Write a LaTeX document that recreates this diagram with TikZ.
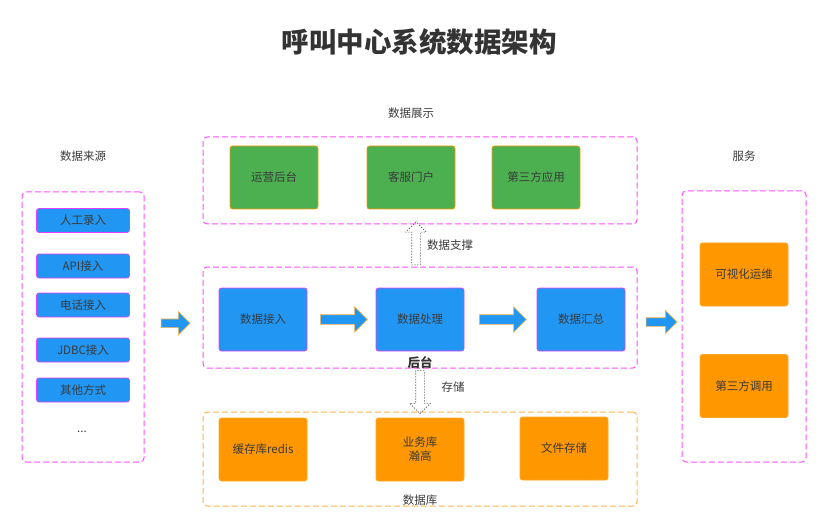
\documentclass[tikz,border=0pt]{standalone}
\usepackage{fontspec}
\setmainfont{Noto Sans CJK SC}
\usetikzlibrary{shapes.arrows,calc}
\definecolor{myblue}{HTML}{2196F3}
\definecolor{mygreen}{HTML}{4CAF50}
\definecolor{myorange}{HTML}{FF9800}
\definecolor{mymagenta}{HTML}{FF4DFF}
\definecolor{boxmagenta}{HTML}{E040FB}
\definecolor{lightorange}{HTML}{FFB34D}
\definecolor{txtgray}{HTML}{3A3A3A}
\tikzset{
  box/.style={rounded corners=2.5pt, align=center, minimum width=88pt, minimum height=63pt,
              font=\fontsize{11.5}{14}\selectfont, text=txtgray, inner sep=2pt, line width=0.7pt},
  bluebox/.style={box, fill=myblue, draw=boxmagenta},
  greenbox/.style={box, fill=mygreen, draw=myorange},
  orangebox/.style={box, fill=myorange, draw=myorange!85!white},
  srcbox/.style={bluebox, minimum width=93pt, minimum height=24pt},
  group/.style={draw=mymagenta, dash pattern=on 6pt off 3pt, rounded corners=4pt, line width=1pt},
  blockarr/.style={single arrow, fill=myblue, draw=myorange!70!white, line width=0.6pt, inner sep=4.5pt,
                   single arrow head extend=8pt, minimum height=47pt},
  hollowarr/.style={single arrow, draw=gray!80!black, dash pattern=on 1.5pt off 1.3pt, line width=0.6pt,
                    inner sep=4pt, single arrow head extend=6pt, minimum height=43pt},
  lab/.style={font=\fontsize{11.5}{14}\selectfont, text=txtgray},
}
\begin{document}
\begin{tikzpicture}[x=1pt, y=-1pt]
  \useasboundingbox (0,0) rectangle (829,529);
  \node[font=\fontsize{27.5}{32}\selectfont\bfseries, text=black!80] (title) at (419,42) {呼叫中心系统数据架构};
  % groups
  \node[group, minimum width=122pt, minimum height=270pt] (src) at (83,327) {};
  \node[group, minimum width=434pt, minimum height=87pt] (show) at (420,180.5) {};
  \node[group, minimum width=434pt, minimum height=101pt] (back) at (420,317.5) {};
  \node[group, draw=lightorange, minimum width=434pt, minimum height=94pt] (db) at (420,459) {};
  \node[group, minimum width=124pt, minimum height=271pt] (srv) at (744,326.5) {};
  \node[lab] (lsrc) at (83,156) {数据来源};
  \node[lab] (lshow) at (411,113) {数据展示};
  \node[lab] (lsrv) at (744,156) {服务};
  \node[font=\fontsize{12.5}{14}\selectfont\bfseries, text=black!80] (lback) at (420,363) {后台};
  \node[lab] (ldb) at (420,500) {数据库};
  % sources
  \node[srcbox] (s1) at (83,220.5) {人工录入};
  \node[srcbox] (s2) at (83,266) {API接入};
  \node[srcbox] (s3) at (83,305) {电话接入};
  \node[srcbox] (s4) at (83,350) {JDBC接入};
  \node[srcbox] (s5) at (83,390) {其他方式};
  \node[lab] (s6) at (82,432) {...};
  % display
  \node[greenbox] (g1) at (274,177.5) {运营后台};
  \node[greenbox] (g2) at (411,177.5) {客服门户};
  \node[greenbox] (g3) at (536,177.5) {第三方应用};
  % backend
  \node[bluebox] (b1) at (263,319.5) {数据接入};
  \node[bluebox] (b2) at (420,319.5) {数据处理};
  \node[bluebox] (b3) at (581,319.5) {数据汇总};
  % storage
  \node[orangebox] (o1) at (263,449.5) {缓存库redis};
  \node[orangebox] (o2) at (420,449.5) {业务库\\瀚高};
  \node[orangebox] (o3) at (564,448.5) {文件存储};
  % services
  \node[orangebox] (v1) at (744,274.5) {可视化运维};
  \node[orangebox] (v2) at (744,386) {第三方调用};
  % arrows
  \node[blockarr, minimum height=29pt, inner sep=4pt, single arrow head extend=7.5pt] (a0) at ($(src.east)!0.5!(back.west)+(0,1)$) {};
  \node[blockarr] (a1) at ($(b1.east)!0.5!(b2.west)$) {};
  \node[blockarr] (a2) at ($(b2.east)!0.5!(b3.west)$) {};
  \node[blockarr, minimum height=31pt, inner sep=4pt, single arrow head extend=7.5pt] (a3) at ($(back.east)!0.5!(srv.west)+(0,0)$) {};
  \node[hollowarr, shape border rotate=90] (up) at ($(show.south)!0.5!(back.north)+(-4,0)$) {};
  \node[lab, right=3pt] (lup) at (up.east) {数据支撑};
  \node[hollowarr, shape border rotate=270] (down) at ($(back.south)!0.5!(db.north)$) {};
  \node[lab] (lstore) at (453,387) {存储};
\end{tikzpicture}
\end{document}
